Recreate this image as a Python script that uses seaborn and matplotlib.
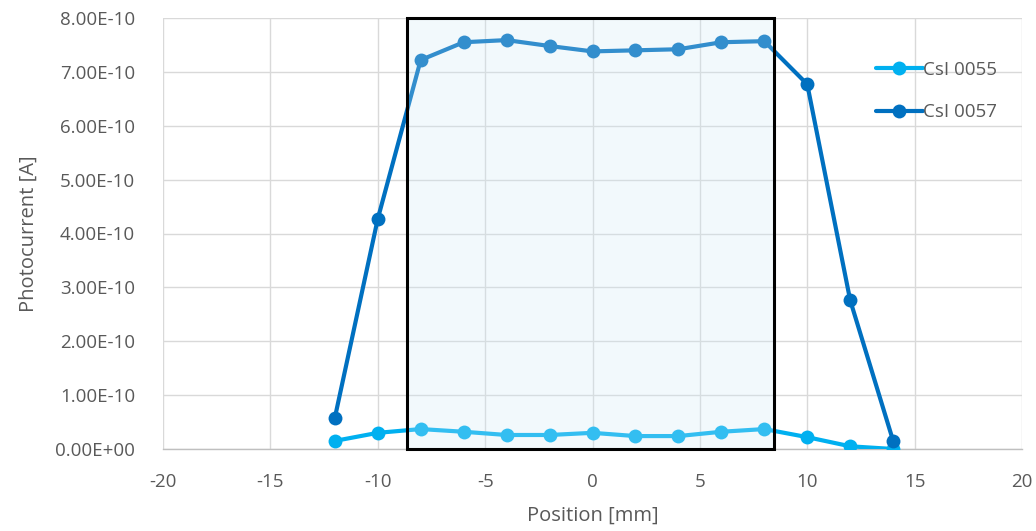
import matplotlib
matplotlib.use("Agg")
import matplotlib.pyplot as plt
import seaborn as sns
import pandas as pd
from matplotlib.patches import Rectangle

positions = [-12, -10, -8, -6, -4, -2, 0, 2, 4, 6, 8, 10, 12, 14]
csi_0055 = [1.5e-11, 3.0e-11, 3.7e-11, 3.2e-11, 2.6e-11, 2.6e-11, 3.0e-11,
            2.4e-11, 2.4e-11, 3.2e-11, 3.7e-11, 2.2e-11, 0.5e-11, 0.0]
csi_0057 = [5.75e-11, 4.27e-10, 7.22e-10, 7.55e-10, 7.59e-10, 7.48e-10, 7.38e-10,
            7.40e-10, 7.42e-10, 7.55e-10, 7.57e-10, 6.77e-10, 2.76e-10, 1.5e-11]
series_names = ["CsI 0055", "CsI 0057"]
series_colors = ["#00B0F0", "#0070C0"]
x_ticks = [-20, -15, -10, -5, 0, 5, 10, 15, 20]
y_ticks = [0, 1e-10, 2e-10, 3e-10, 4e-10, 5e-10, 6e-10, 7e-10, 8e-10]

df = pd.DataFrame({
    "Position": positions * 2,
    "Photocurrent": csi_0055 + csi_0057,
    "Series": [series_names[0]] * len(positions) + [series_names[1]] * len(positions),
})

sns.set_theme(style="white")
plt.rcParams['font.family'] = ['Open Sans', 'DejaVu Sans']

fig = plt.figure(figsize=(10.36, 5.31), dpi=100)
ax = fig.add_axes([163 / 1036, 1 - 449 / 531, (1022 - 163) / 1036, (449 - 18) / 531])

sns.lineplot(data=df, x="Position", y="Photocurrent", hue="Series",
             palette=series_colors, marker="o", markersize=10, markeredgewidth=0,
             linewidth=3, ax=ax, zorder=3)

rect = Rectangle((-8.63, 0), 17.08, 8e-10, facecolor="#cfeaf7", alpha=0.25,
                 edgecolor="none", zorder=4)
ax.add_patch(rect)
rect2 = Rectangle((-8.63, 0), 17.08, 8e-10, facecolor="none",
                  edgecolor="black", linewidth=2.2, zorder=5, clip_on=False)
ax.add_patch(rect2)

ax.set_xlim(-20, 20)
ax.set_ylim(0, 8e-10)
ax.set_xticks(x_ticks)
ax.set_xticklabels([str(t) for t in x_ticks])
ax.set_yticks(y_ticks)
ax.set_yticklabels([f"{v:.2E}" for v in y_ticks])
ax.grid(True, color="#d9d9d9", linewidth=1)
for s in ["top", "right", "left"]:
    ax.spines[s].set_visible(False)
ax.spines["bottom"].set_color("#bfbfbf")
ax.spines["bottom"].set_linewidth(1)
ax.tick_params(axis="both", colors="#595959", labelsize=13.5, length=0)
ax.tick_params(axis="y", pad=20)
ax.tick_params(axis="x", pad=17)
ax.set_xlabel("Position [mm]", fontsize=14.5, color="#595959", labelpad=11)
ax.set_ylabel("Photocurrent [A]", fontsize=14.5, color="#595959", labelpad=12)

leg = ax.legend(loc="upper left", bbox_to_anchor=(0.81, 0.94), frameon=False,
                fontsize=13.5, labelcolor="#595959", handlelength=2.5,
                handletextpad=0.05, labelspacing=1.3)

fig.savefig("out.png", dpi=100)
